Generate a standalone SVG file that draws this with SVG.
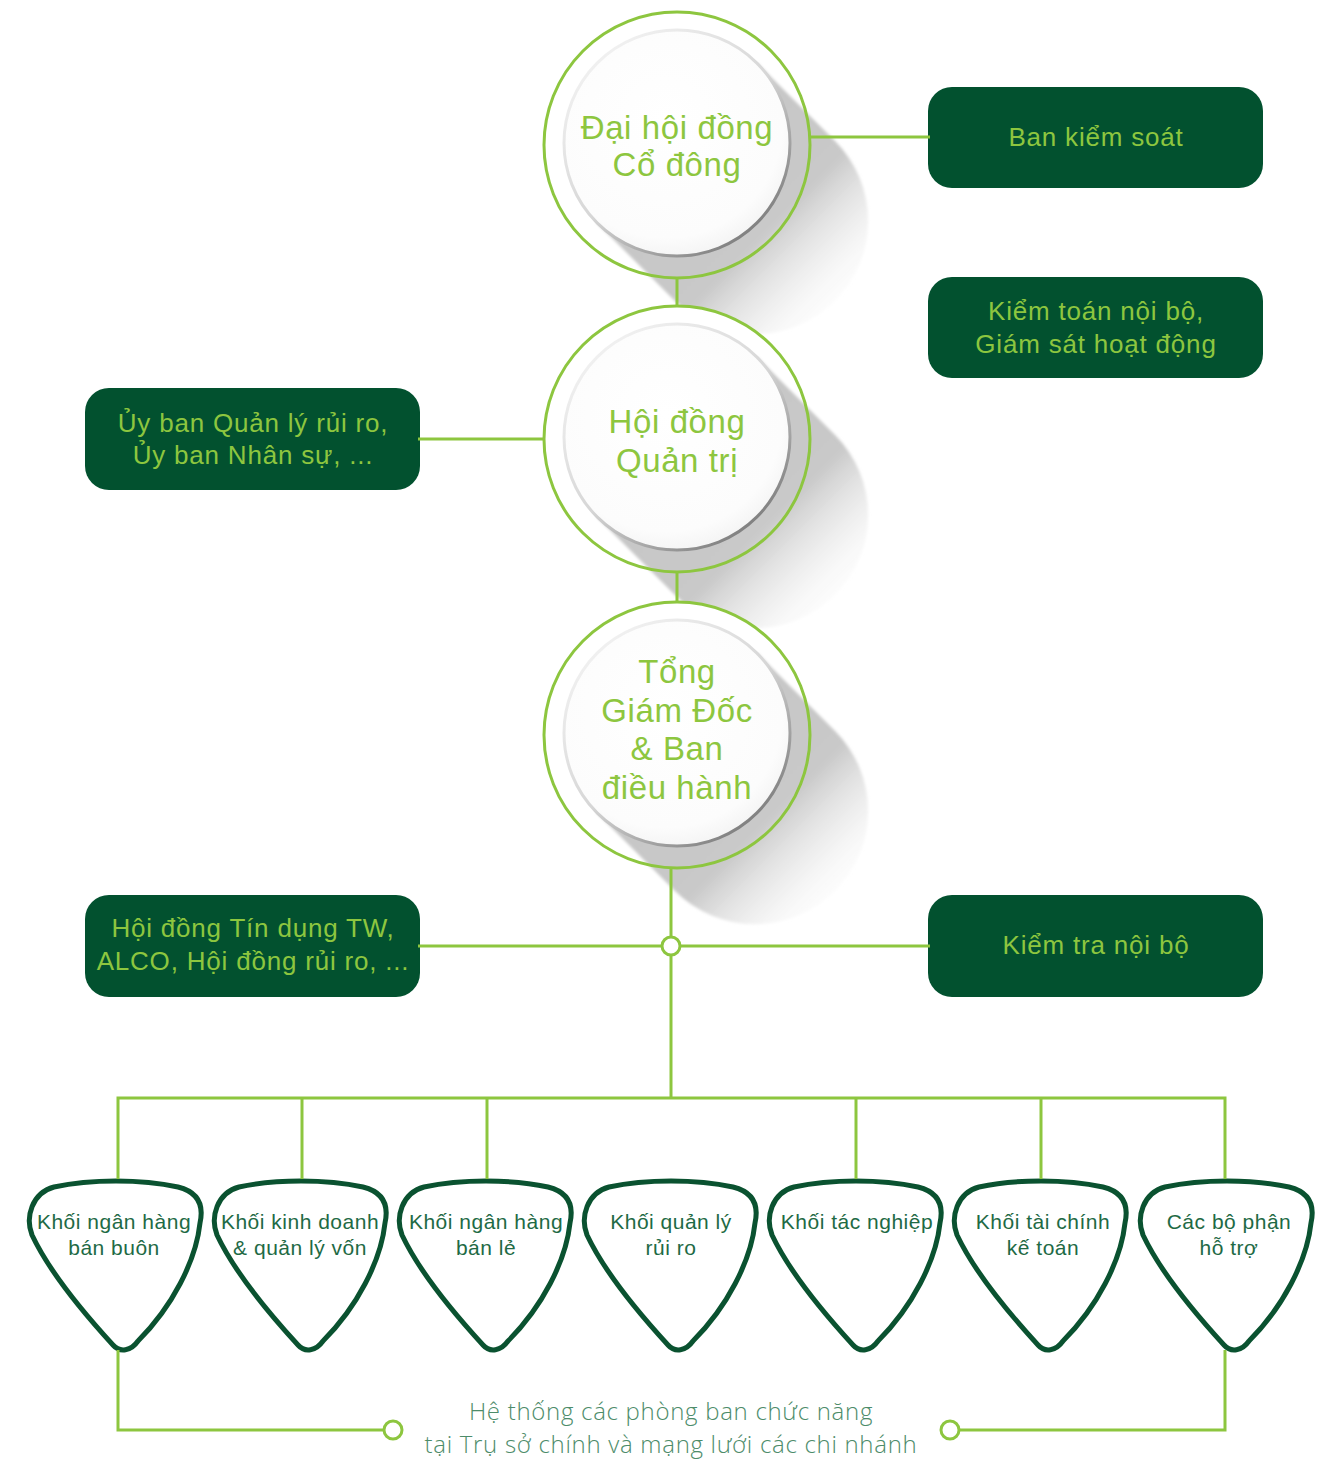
<svg xmlns="http://www.w3.org/2000/svg" xmlns:xlink="http://www.w3.org/1999/xlink" width="1329" height="1459" viewBox="0 0 1329 1459">
<style>
.ln{fill:none;stroke:#8DC63F;stroke-width:3}
.dot{fill:#ffffff;stroke:#8DC63F;stroke-width:3}
.box{fill:#02512F}
.bt{font-family:"Liberation Sans","Noto Sans",sans-serif;font-size:26px;letter-spacing:0.8px;fill:#8DC63F;text-anchor:middle}
.ct{font-family:"Liberation Sans","Noto Sans",sans-serif;font-size:33px;letter-spacing:0.6px;fill:#8DC63F;text-anchor:middle}
.st{font-family:"Liberation Sans","Noto Sans",sans-serif;font-size:21px;letter-spacing:0.5px;fill:#1E6A45;text-anchor:middle}
.ft{font-family:"Open Sans","Liberation Sans",sans-serif;font-weight:300;font-size:24px;letter-spacing:0.7px;fill:#4D8C6A;text-anchor:middle}
.pick{fill:#ffffff;stroke:#0A5230;stroke-width:5;stroke-linejoin:round}
</style>
<defs>
<linearGradient id="shg" x1="0" y1="0" x2="1" y2="1">
<stop offset="0" stop-color="#c3c3c3"/>
<stop offset="0.62" stop-color="#c9c9c9"/>
<stop offset="0.95" stop-color="#ffffff" stop-opacity="0"/>
</linearGradient>
<linearGradient id="rimg" x1="0.2" y1="0.1" x2="0.85" y2="0.9">
<stop offset="0" stop-color="#f0f0f0"/>
<stop offset="0.5" stop-color="#d6d6d6"/>
<stop offset="1" stop-color="#7d7d7d"/>
</linearGradient>
<radialGradient id="fillg" cx="0.45" cy="0.4" r="0.65">
<stop offset="0" stop-color="#ffffff"/>
<stop offset="0.8" stop-color="#fcfcfc"/>
<stop offset="1" stop-color="#f1f1f1"/>
</radialGradient>
<filter id="blur" x="-20%" y="-20%" width="140%" height="140%">
<feGaussianBlur stdDeviation="1.5"/>
</filter>
<g id="bubble">
<circle cx="0" cy="0" r="133" fill="#ffffff"/>
<path d="M80,-82 L158,-4 A113,113 0 0 1 -2,156 L-80,78 Z" fill="url(#shg)" filter="url(#blur)"/>
<circle cx="0" cy="0" r="133" fill="none" stroke="#8DC63F" stroke-width="3"/>
<circle cx="0" cy="-2" r="113" fill="url(#fillg)" stroke="url(#rimg)" stroke-width="3"/>
</g>
<path id="pick" class="pick" d="M -62,6 C -25,-2 25,-2 62,6 C 82,11 88,24 84,42 C 80,80 56,126 22,160 C 15,170 4,172 -3,164 C -36,128 -68,88 -84,54 C -91,36 -84,12 -62,6 Z"/>
</defs>

<g id="n-dhdcd">
<use xlink:href="#bubble" transform="translate(677,145)"/>
<text class="ct" x="677" y="139">Đại hội đồng</text>
<text class="ct" x="677" y="176">Cổ đông</text>
</g>
<g id="n-hdqt">
<use xlink:href="#bubble" transform="translate(677,439)"/>
<text class="ct" x="677" y="433">Hội đồng</text>
<text class="ct" x="677" y="472">Quản trị</text>
</g>
<g id="n-tgd">
<use xlink:href="#bubble" transform="translate(677,735)"/>
<text class="ct" x="677" y="683">Tổng</text>
<text class="ct" x="677" y="722">Giám Đốc</text>
<text class="ct" x="677" y="760">&amp; Ban</text>
<text class="ct" x="677" y="799">điều hành</text>
</g>

<g id="n-bks">
<rect class="box" x="928" y="87" width="335" height="101" rx="24"/>
<text class="bt" x="1096" y="146">Ban kiểm soát</text>
</g>
<g id="n-ktnb">
<rect class="box" x="928" y="277" width="335" height="101" rx="24"/>
<text class="bt" x="1096" y="320">Kiểm toán nội bộ,</text>
<text class="bt" x="1096" y="353">Giám sát hoạt động</text>
</g>
<g id="n-ub">
<rect class="box" x="85" y="388" width="335" height="102" rx="24"/>
<text class="bt" x="253" y="432">Ủy ban Quản lý rủi ro,</text>
<text class="bt" x="253" y="464">Ủy ban Nhân sự, ...</text>
</g>
<g id="n-hdtd">
<rect class="box" x="85" y="895" width="335" height="102" rx="24"/>
<text class="bt" x="253" y="937">Hội đồng Tín dụng TW,</text>
<text class="bt" x="253" y="970">ALCO, Hội đồng rủi ro, ...</text>
</g>
<g id="n-ktranb">
<rect class="box" x="928" y="895" width="335" height="102" rx="24"/>
<text class="bt" x="1096" y="954">Kiểm tra nội bộ</text>
</g>

<g id="n-k1">
<use xlink:href="#pick" transform="translate(116,1181)"/>
<text class="st" x="114" y="1229">Khối ngân hàng</text>
<text class="st" x="114" y="1255">bán buôn</text>
</g>
<g id="n-k2">
<use xlink:href="#pick" transform="translate(301,1181)"/>
<text class="st" x="300" y="1229">Khối kinh doanh</text>
<text class="st" x="300" y="1255">&amp; quản lý vốn</text>
</g>
<g id="n-k3">
<use xlink:href="#pick" transform="translate(486,1181)"/>
<text class="st" x="486" y="1229">Khối ngân hàng</text>
<text class="st" x="486" y="1255">bán lẻ</text>
</g>
<g id="n-k4">
<use xlink:href="#pick" transform="translate(671,1181)"/>
<text class="st" x="671" y="1229">Khối quản lý</text>
<text class="st" x="671" y="1255">rủi ro</text>
</g>
<g id="n-k5">
<use xlink:href="#pick" transform="translate(856,1181)"/>
<text class="st" x="857" y="1229">Khối tác nghiệp</text>
</g>
<g id="n-k6">
<use xlink:href="#pick" transform="translate(1041,1181)"/>
<text class="st" x="1043" y="1229">Khối tài chính</text>
<text class="st" x="1043" y="1255">kế toán</text>
</g>
<g id="n-k7">
<use xlink:href="#pick" transform="translate(1227,1181)"/>
<text class="st" x="1229" y="1229">Các bộ phận</text>
<text class="st" x="1229" y="1255">hỗ trợ</text>
</g>

<g id="n-footer">
<text class="ft" x="671" y="1420">Hệ thống các phòng ban chức năng</text>
<text class="ft" x="671" y="1453">tại Trụ sở chính và mạng lưới các chi nhánh</text>
</g>

<g id="connectors">
<line class="ln" x1="677" y1="278" x2="677" y2="306"/>
<line class="ln" x1="677" y1="572" x2="677" y2="602"/>
<line class="ln" x1="810" y1="137" x2="930" y2="137"/>
<line class="ln" x1="418" y1="439" x2="544" y2="439"/>
<line class="ln" x1="671" y1="868" x2="671" y2="1098"/>
<line class="ln" x1="418" y1="946" x2="930" y2="946"/>
<polyline class="ln" points="118,1179 118,1098 1225,1098 1225,1179"/>
<line class="ln" x1="302" y1="1098" x2="302" y2="1179"/>
<line class="ln" x1="487" y1="1098" x2="487" y2="1179"/>
<line class="ln" x1="856" y1="1098" x2="856" y2="1179"/>
<line class="ln" x1="1041" y1="1098" x2="1041" y2="1179"/>
<polyline class="ln" points="118,1350 118,1430 384,1430"/>
<polyline class="ln" points="1225,1350 1225,1430 959,1430"/>
<circle class="dot" cx="671" cy="946" r="9"/>
<circle class="dot" cx="393" cy="1430" r="9"/>
<circle class="dot" cx="950" cy="1430" r="9"/>
</g>
</svg>
